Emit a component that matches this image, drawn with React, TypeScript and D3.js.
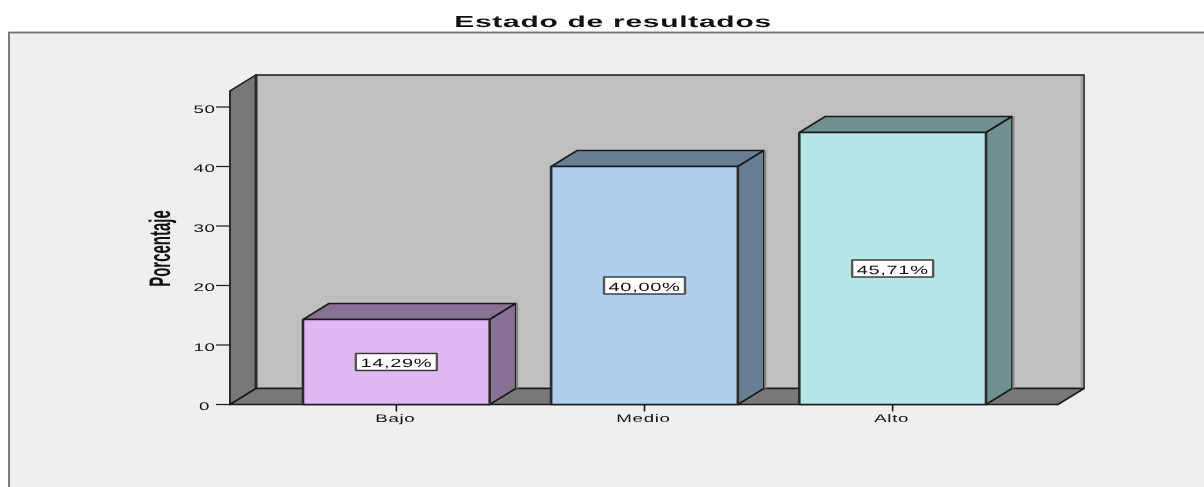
import React from "react";
import * as d3 from "d3";

const categories = ["Bajo", "Medio", "Alto"];
const percentages = [14.29, 40.0, 45.71];
const valueLabels = ["14,29%", "40,00%", "45,71%"];
const fills = ["#dfb9f3", "#aecfee", "#b6e7e7"];
const sideFills = ["#887193", "#677f93", "#708f8f"];
const yTicks = [0, 10, 20, 30, 40, 50];
const title = "Estado de resultados";
const yTitle = "Porcentaje";

const W = 1204, H = 487;
const dx = 26, dy = -16;
const y = d3.scaleLinear().domain([0, 50]).range([404.5, 107]);
const x = d3.scaleBand().domain(categories).range([303, 986]).paddingInner(0.2475).paddingOuter(0);
const plotL = 230, plotR = 1058;
const wallTop = y(52.7);
const font = "Liberation Sans, Arial, sans-serif";

function St({ cx, cy, sx, sy = 1, rotate = 0, size, weight, ls = 0, children }: any) {
  return (
    <text transform={`translate(${cx},${cy}) rotate(${rotate}) scale(${sx},${sy})`} textAnchor="middle"
      fontFamily={font} fontSize={size} fontWeight={weight} letterSpacing={ls} fill="#111"
      textRendering="geometricPrecision">{children}</text>
  );
}

export default function App() {
  const base = y(0);
  const line = { stroke: "#1a1a1a", strokeWidth: 1.6, strokeLinejoin: "round" as const };
  return (
    <svg width={W} height={H} style={{ position: "absolute", left: 0, top: 0, display: "block", filter: "blur(0.35px)" }}>
      <rect width={W} height={H} fill="#fff" />
      <rect x={9} y={32.5} width={W} height={H} fill="#efefef" stroke="#6f6f6f" strokeWidth={1.8} />
      <St cx={613} cy={26.5} sx={1.87} size={16} ls={0.4} weight="bold">{title}</St>

      {/* back wall */}
      <polygon points={`${plotL + dx},${wallTop + dy} ${plotR + dx},${wallTop + dy} ${plotR + dx},${base + dy} ${plotL + dx},${base + dy}`} fill="#bfbfbf" {...line} />
      <line x1={plotR + dx - 2} x2={plotR + dx - 2} y1={wallTop + dy + 1} y2={base + dy - 1} stroke="#a0a0a0" strokeWidth={2.5} />
      {/* left wall */}
      <polygon points={`${plotL},${wallTop} ${plotL + dx},${wallTop + dy} ${plotL + dx},${base + dy} ${plotL},${base}`} fill="#787878" {...line} />
      <line x1={plotL + dx} x2={plotL + dx} y1={wallTop + dy} y2={base + dy} stroke="#2a2a2a" strokeWidth={3} />
      <line x1={plotL} x2={plotL} y1={wallTop} y2={base} stroke="#2a2a2a" strokeWidth={2} />
      {/* floor */}
      <polygon points={`${plotL},${base} ${plotR},${base} ${plotR + dx},${base + dy} ${plotL + dx},${base + dy}`} fill="#787878" {...line} />

      {yTicks.map((t) => (
        <g key={t}>
          <line x1={plotL - 14} x2={plotL} y1={y(t)} y2={y(t)} stroke="#1a1a1a" strokeWidth={1.2} />
          <St cx={204.5} cy={y(t) + 5.5} sx={1.7} size={11} ls={0.4}>{t}</St>
        </g>
      ))}
      <St cx={170} cy={248.5} rotate={-90} sx={0.88} sy={1.75} size={17} weight="bold">{yTitle}</St>

      {categories.map((c, i) => {
        const l = x(c)!, r = l + x.bandwidth(), t = y(percentages[i]);
        const cx = (l + r) / 2;
        const mid = (t + base) / 2;
        return (
          <g key={c}>
            <polygon points={`${l},${t} ${l + dx},${t + dy} ${r + dx},${t + dy} ${r},${t}`} fill={sideFills[i]} {...line} />
            <polygon points={`${r},${t} ${r + dx},${t + dy} ${r + dx},${base + dy} ${r},${base}`} fill={sideFills[i]} {...line} />
            <line x1={r + dx + 1.5} x2={r + dx + 1.5} y1={t + dy} y2={base + dy} stroke="#8a8a8a" strokeWidth={2} />
            <rect x={l} y={t} width={r - l} height={base - t} fill={fills[i]} {...line} />
            <line x1={l} x2={l} y1={t} y2={base} stroke="#2a2a2a" strokeWidth={2.6} />
            <line x1={r} x2={r} y1={t} y2={base} stroke="#2a2a2a" strokeWidth={2.6} />
            <line x1={cx} x2={cx} y1={base} y2={base + 7} stroke="#1a1a1a" strokeWidth={1.6} />
            <St cx={cx - 1} cy={base + 17.5} sx={1.7} size={11} ls={0.4}>{c}</St>
            <rect x={cx - 40.5} y={mid - 8.5} width={81} height={17} fill="#fff" stroke="#333" strokeWidth={1.4} />
            <line x1={cx - 40.5} x2={cx - 40.5} y1={mid - 8.5} y2={mid + 8.5} stroke="#555" strokeWidth={2.4} />
            <line x1={cx + 40.5} x2={cx + 40.5} y1={mid - 8.5} y2={mid + 8.5} stroke="#555" strokeWidth={2.4} />
            <St cx={cx} cy={mid + 5} sx={1.67} size={12} ls={0.4}>{valueLabels[i]}</St>
          </g>
        );
      })}
    </svg>
  );
}
